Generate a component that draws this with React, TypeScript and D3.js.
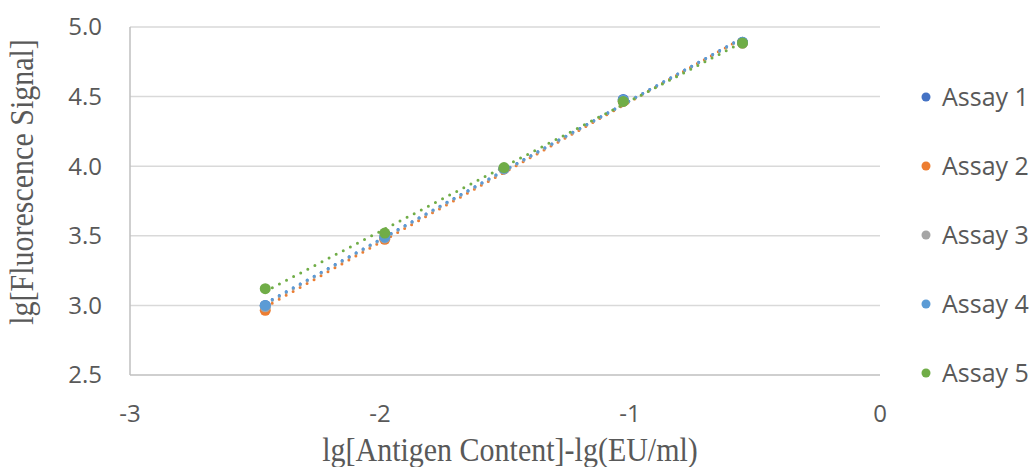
import React from "react";
import { scaleLinear, line } from "d3";

const xValues = [-2.459, -1.981, -1.504, -1.027, -0.55];
const assay1 = [3.0, 3.49, 3.98, 4.48, 4.89];
const assay2 = [2.965, 3.475, 3.98, 4.465, 4.885];
const assay3 = [2.99, 3.485, 3.98, 4.47, 4.885];
const assay4 = [3.0, 3.49, 3.985, 4.475, 4.89];
const assay5 = [3.12, 3.52, 3.99, 4.465, 4.885];
const seriesNames = ["Assay 1", "Assay 2", "Assay 3", "Assay 4", "Assay 5"];
const colors = ["#4472C4", "#ED7D31", "#A5A5A5", "#5B9BD5", "#70AD47"];
const yTicks = [2.5, 3.0, 3.5, 4.0, 4.5, 5.0];
const xTicks = [-3, -2, -1, 0];

const allSeries = [assay1, assay2, assay3, assay4, assay5];

// least squares fit for the dotted trendlines
function fit(xs: number[], ys: number[]) {
  const n = xs.length;
  const mx = xs.reduce((a, b) => a + b, 0) / n;
  const my = ys.reduce((a, b) => a + b, 0) / n;
  let sxy = 0, sxx = 0;
  xs.forEach((x, i) => {
    sxy += (x - mx) * (ys[i] - my);
    sxx += (x - mx) * (x - mx);
  });
  const slope = sxy / sxx;
  return (x: number) => my + slope * (x - mx);
}

const App = () => {
  const width = 1036;
  const height = 467;
  const left = 130, right = 880, top = 27, bottom = 375;

  const x = scaleLinear().domain([-3, 0]).range([left, right]);
  const y = scaleLinear().domain([2.5, 5.0]).range([bottom, top]);

  const lineGen = line<[number, number]>()
    .x(d => x(d[0]))
    .y(d => y(d[1]));

  const tickFont = "'Open Sans', 'DejaVu Sans', sans-serif";
  const titleFont = "'Liberation Serif', 'DejaVu Serif', serif";

  return (
    <svg
      width={width}
      height={height}
      style={{ position: "absolute", left: 0, top: 0, background: "#fff" }}
    >
      {/* gridlines */}
      {yTicks.map(t => (
        <line
          key={"g" + t}
          x1={left}
          x2={right}
          y1={y(t)}
          y2={y(t)}
          stroke={t === 2.5 ? "#bfbfbf" : "#d9d9d9"}
          strokeWidth={1.5}
        />
      ))}
      <line x1={left} x2={left} y1={top} y2={bottom} stroke="#bfbfbf" strokeWidth={1.5} />

      {/* y tick labels */}
      {yTicks.map(t => (
        <text
          key={"yt" + t}
          x={left - 28}
          y={y(t)}
          dy="0.35em"
          textAnchor="end"
          fontFamily={tickFont}
          fontSize={24}
          fill="#595959"
        >
          {t.toFixed(1)}
        </text>
      ))}

      {/* x tick labels */}
      {xTicks.map(t => (
        <text
          key={"xt" + t}
          x={x(t)}
          y={bottom + 39}
          dy="0.35em"
          textAnchor="middle"
          fontFamily={tickFont}
          fontSize={24}
          fill="#595959"
        >
          {t}
        </text>
      ))}

      {/* trendlines */}
      {allSeries.map((ys, i) => {
        const f = fit(xValues, ys);
        const x0 = xValues[0];
        const x1 = xValues[xValues.length - 1];
        return (
          <path
            key={"tl" + i}
            d={lineGen([[x0, f(x0)], [x1, f(x1)]]) || ""}
            fill="none"
            stroke={colors[i]}
            strokeWidth={3}
            strokeDasharray="0 8"
            strokeLinecap="round"
          />
        );
      })}

      {/* markers */}
      {allSeries.map((ys, i) =>
        ys.map((v, j) => (
          <circle
            key={"m" + i + "-" + j}
            cx={x(xValues[j])}
            cy={y(v)}
            r={5.5}
            fill={colors[i]}
          />
        ))
      )}

      {/* legend */}
      {seriesNames.map((name, i) => {
        const ly = 97 + i * 69;
        return (
          <g key={"lg" + i}>
            <circle cx={926} cy={ly} r={4.5} fill={colors[i]} />
            <text
              x={942}
              y={ly}
              dy="0.35em"
              fontFamily={tickFont}
              fontSize={25}
              fill="#595959"
            >
              {name}
            </text>
          </g>
        );
      })}

      {/* axis titles */}
      <text
        transform="translate(510, 461) scale(1, 1.12)"
        textAnchor="middle"
        fontFamily={titleFont}
        fontSize={30}
        fill="#595959"
      >
        lg[Antigen Content]-lg(EU/ml)
      </text>
      <text
        transform="translate(33, 182) rotate(-90) scale(1, 1.12)"
        textAnchor="middle"
        fontFamily={titleFont}
        fontSize={30}
        fill="#595959"
      >
        lg[Fluorescence Signal]
      </text>
    </svg>
  );
};

export default App;
